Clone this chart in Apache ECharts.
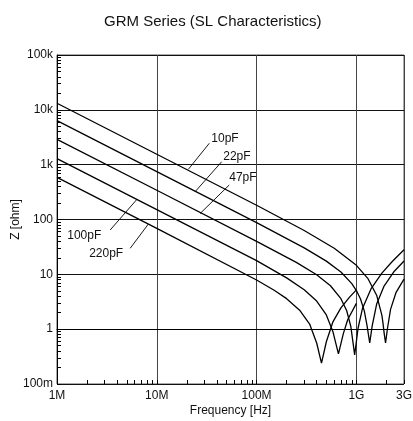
<!DOCTYPE html>
<html><head><meta charset="utf-8">
<script src="https://cdn.jsdelivr.net/npm/echarts@6/dist/echarts.min.js"></script>
<style>html,body{margin:0;padding:0;background:#fff}#chart{width:413px;height:421px}</style>
</head><body><div id="chart"></div>
<script>
// ---- data (frequency in Hz, impedance in ohm) ----
const seriesNames = ['10pF', '22pF', '47pF', '100pF', '220pF'];

const freq10pF = [1e6, 1e7, 1e8, 3e8, 6e8, 1e9, 1.3e9, 1.6e9, 1.8e9, 1.85e9, 1.9e9, 1.96e9, 2.05e9, 2.2e9, 2.5e9, 3e9];
const z10pF    = [13200, 1551, 182, 62.9, 29.9, 14.6, 8.46, 4.1, 1.8, 1.26, 0.83, 0.56, 1.04, 2.3, 4.7, 8.2];

const freq22pF = [1e6, 1e7, 1e8, 3e8, 5e8, 7e8, 9e8, 1e9, 1.1e9, 1.2e9, 1.28e9, 1.36e9, 1.44e9, 1.6e9, 1.9e9, 2.4e9, 3e9];
const z22pF    = [6340, 745, 87.5, 30.4, 17.4, 11.0, 6.77, 5.06, 3.55, 2.16, 1.15, 0.56, 1.15, 2.92, 6.18, 11.4, 17.5];

const freq47pF = [1e6, 1e7, 1e8, 2.5e8, 4e8, 5.5e8, 7e8, 8e8, 8.8e8, 9.61e8, 1.04e9, 1.15e9, 1.4e9, 1.8e9, 2.3e9, 3e9];
const z47pF    = [2900, 341, 40.0, 16.5, 9.8, 6.19, 3.6, 2.17, 1.11, 0.34, 1.05, 2.38, 5.42, 10.5, 17.3, 28];

const freq100pF = [1e6, 1e7, 1e8, 2e8, 3e8, 4e8, 5e8, 5.8e8, 6.61e8, 7.4e8, 8.2e8, 1e9];
const z100pF    = [1290, 151.6, 17.8, 8.62, 5.22, 3.25, 1.82, 0.92, 0.355, 0.83, 1.5, 2.96];

const freq220pF = [1e6, 1e7, 1e8, 1.5e8, 2e8, 2.7e8, 3.4e8, 4e8, 4.47e8, 5e8, 5.8e8, 7e8, 8.5e8, 1e9];
const z220pF    = [588, 69.1, 7.87, 5.12, 3.6, 2.22, 1.24, 0.56, 0.24, 0.59, 1.34, 2.44, 3.8, 5.2];

const xTickValues = [1e6, 1e7, 1e8, 1e9, 3e9];
const xTickLabels = ['1M', '10M', '100M', '1G', '3G'];
const yTickValues = [0.1, 1, 10, 100, 1e3, 1e4, 1e5];
const yTickLabels = ['100m', '1', '10', '100', '1k', '10k', '100k'];

// ---- annotation layout (leader lines & label anchors, in data units) ----
const leaderLines = {
  '10pF':  [[20.7e6, 823], [33.6e6, 2455]],
  '22pF':  [[24.2e6, 321], [44.7e6, 1132]],
  '47pF':  [[27.1e6, 128], [53.2e6, 426]],
  '100pF': [[6.31e6, 232], [3.41e6, 64.3]],
  '220pF': [[8.24e6, 82.7], [5.41e6, 29.8]]
};
const labelAnchors = {
  '10pF':  [48.2e6, 3000],
  '22pF':  [63.5e6, 1420],
  '47pF':  [72.9e6, 570],
  '100pF': [1.875e6, 50],
  '220pF': [3.11e6, 23.5]
};

const freqs = [freq10pF, freq22pF, freq47pF, freq100pF, freq220pF];
const imps  = [z10pF, z22pF, z47pF, z100pF, z220pF];

function nearestLabel(v, vals, labels) {
  let best = 0, bd = Infinity;
  for (let i = 0; i < vals.length; i++) {
    const d = Math.abs(Math.log10(v) - Math.log10(vals[i]));
    if (d < bd) { bd = d; best = i; }
  }
  return bd < 0.02 ? labels[best] : '';
}

const FONT = 'Liberation Sans, Arial, sans-serif';
const TEXT = '#111';
const xMin = xTickValues[0], xMax = xTickValues[xTickValues.length - 1];
const yMin = yTickValues[0], yMax = yTickValues[yTickValues.length - 1];

const xMinor = [];
for (let d = Math.round(Math.log10(xMin)); d <= Math.log10(xMax); d++) {
  for (let k = 1; k <= 9; k++) {
    const v = d + Math.log10(k);
    if (v <= Math.log10(xMax) + 1e-9) xMinor.push(v);
  }
}
const yMinor = [];
for (let d = Math.round(Math.log10(yMin)); d <= Math.round(Math.log10(yMax)); d++) {
  for (let k = 1; k <= 9; k++) {
    const v = d + Math.log10(k);
    if (v <= Math.log10(yMax) + 1e-9) yMinor.push(v);
  }
}

const series = seriesNames.map((name, i) => ({
  name: name,
  type: 'line',
  xAxisIndex: 0, yAxisIndex: 0,
  data: freqs[i].map((f, j) => [f, imps[i][j]]),
  showSymbol: false,
  symbol: 'none',
  lineStyle: { color: '#000', width: 1.3 },
  z: 5,
  markLine: {
    silent: true,
    symbol: ['none', 'none'],
    label: { show: false },
    lineStyle: { color: '#000', width: 0.9, type: 'solid' },
    data: [[{ coord: leaderLines[name][0] }, { coord: leaderLines[name][1] }]],
    animation: false
  },
  markPoint: {
    silent: true,
    symbol: 'circle',
    symbolSize: 0,
    itemStyle: { color: 'transparent' },
    label: {
      show: true, position: 'inside', formatter: '{b}',
      color: TEXT, fontSize: 12, fontFamily: FONT,
      textBorderWidth: 0, opacity: 1
    },
    data: [{ name: name, coord: labelAnchors[name] }],
    animation: false
  }
}));

const chart = echarts.init(document.getElementById('chart'), null, { renderer: 'canvas' });
chart.setOption({
  animation: false,
  backgroundColor: '#fff',
  title: {
    text: 'GRM Series (SL Characteristics)',
    left: 99, top: 9,
    textStyle: { fontSize: 15, fontWeight: 'normal', color: TEXT, fontFamily: FONT }
  },
  grid: {
    left: 57, right: 9, top: 55, bottom: 37,
    outerBoundsMode: 'none', containLabel: false,
    show: true, borderColor: '#555', borderWidth: 1, backgroundColor: 'transparent'
  },
  xAxis: [
    {
      type: 'log', logBase: 10, min: xMin, max: xMax, position: 'bottom',
      name: 'Frequency [Hz]', nameLocation: 'middle', nameGap: 21, nameMoveOverlap: false,
      nameTextStyle: { fontSize: 12, color: TEXT, fontFamily: FONT },
      axisLine: { show: true, lineStyle: { color: '#000', width: 1 } },
      axisTick: { show: false },
      axisLabel: {
        margin: 6, fontSize: 12, color: TEXT, fontFamily: FONT,
        showMinLabel: true, showMaxLabel: true, hideOverlap: false,
        formatter: v => nearestLabel(v, xTickValues, xTickLabels)
      },
      splitLine: { show: true, lineStyle: { color: '#444', width: 1 } }
    },
    {
      type: 'value', min: Math.log10(xMin), max: Math.log10(xMax), position: 'bottom',
      axisLine: { show: false }, axisLabel: { show: false }, splitLine: { show: false },
      axisTick: { show: true, inside: true, length: 4, customValues: xMinor, lineStyle: { color: '#000', width: 1 } }
    }
  ],
  yAxis: [
    {
      type: 'log', logBase: 10, min: yMin, max: yMax, position: 'left',
      name: 'Z [ohm]', nameLocation: 'middle', nameGap: 35, nameRotate: 90, nameMoveOverlap: false,
      nameTextStyle: { fontSize: 12, color: TEXT, fontFamily: FONT },
      axisLine: { show: true, lineStyle: { color: '#000', width: 1 } },
      axisTick: { show: false },
      axisLabel: {
        margin: 4, fontSize: 12, color: TEXT, fontFamily: FONT,
        formatter: v => nearestLabel(v, yTickValues, yTickLabels)
      },
      splitLine: { show: true, lineStyle: { color: '#111', width: 1 } }
    },
    {
      type: 'value', min: Math.log10(yMin), max: Math.log10(yMax), position: 'left',
      axisLine: { show: false }, axisLabel: { show: false }, splitLine: { show: false },
      axisTick: { show: true, inside: true, length: 4, customValues: yMinor, lineStyle: { color: '#000', width: 1 } }
    }
  ],
  series: series
});
</script>
</body></html>
